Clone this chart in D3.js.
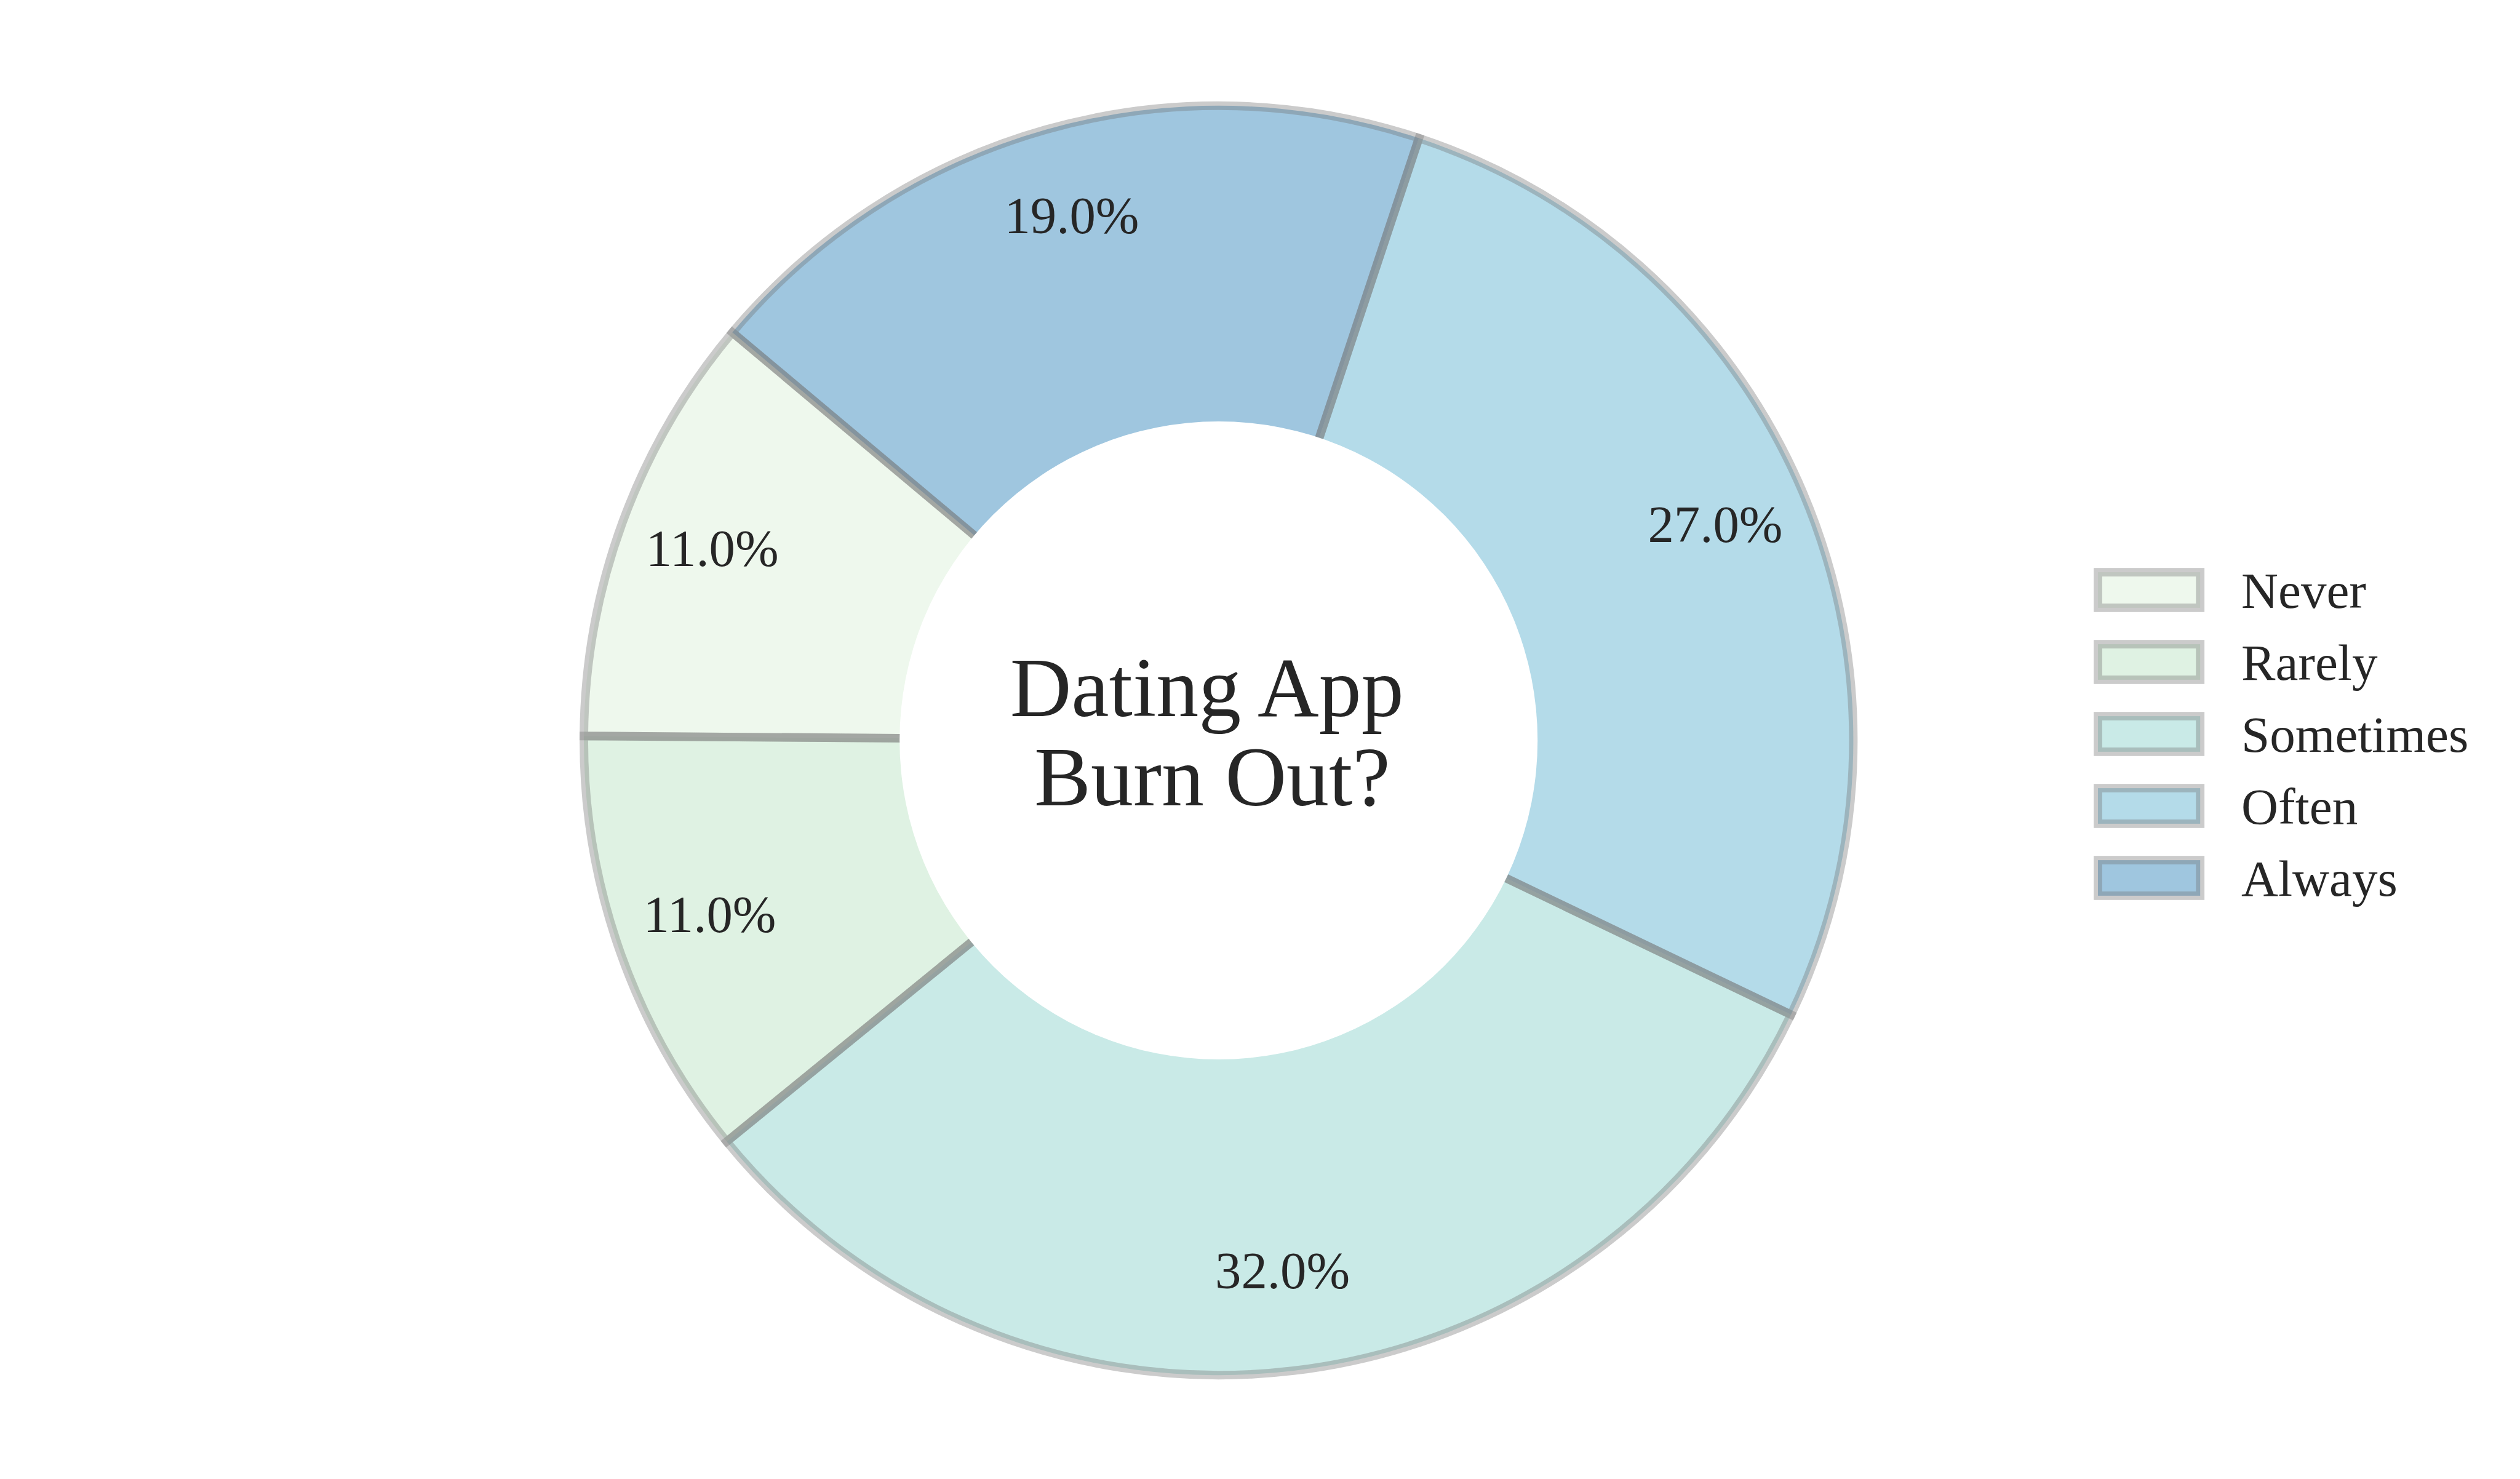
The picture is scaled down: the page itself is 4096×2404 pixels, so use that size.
<!DOCTYPE html>
<html>
<head>
<meta charset="utf-8">
<script src="https://cdn.jsdelivr.net/npm/d3@7"></script>
<style>
  html, body { margin: 0; padding: 0; background: #ffffff; }
  svg { display: block; }
</style>
</head>
<body>
<script>
// ---- data ----
const categories = ["Never", "Rarely", "Sometimes", "Often", "Always"];
const values = [11, 11, 32, 27, 19];
const centerTitle = ["Dating App", "Burn Out?"];

// ---- style ----
const fills = ["#eef8ed", "#dff2e3", "#c9eae7", "#b4dbe9", "#9fc6df"];
const W = 4096, H = 2404;
const cx = 1980.7, cy = 1203.5;
const R = 1031.7, rHole = 518.5;
const strokeW = 13.85;
const strokeCol = "rgb(116,116,116)";
const strokeOp = 0.374;
const textCol = "#262626";
const font = "'Liberation Serif', 'Times New Roman', serif";

const svg = d3.select("body").append("svg")
  .attr("width", W).attr("height", H);

const total = d3.sum(values);
const startDeg = 90 - 140; // matplotlib startangle=140, counterclockwise
const toRad = d => d * Math.PI / 180;
const pie = d3.pie().sort(null)
  .startAngle(toRad(startDeg))
  .endAngle(toRad(startDeg) - 2 * Math.PI);
const arcs = pie(values);
const arcGen = d3.arc().innerRadius(0).outerRadius(R);

const color = d3.scaleOrdinal().domain(categories).range(fills);

const g = svg.append("g").attr("transform", `translate(${cx},${cy})`);

// fills
g.selectAll("path.fill").data(arcs).enter().append("path")
  .attr("class", "fill")
  .attr("d", arcGen)
  .attr("fill", (d, i) => color(categories[i]));

// strokes
g.selectAll("path.edge").data(arcs).enter().append("path")
  .attr("class", "edge")
  .attr("d", arcGen)
  .attr("fill", "none")
  .attr("stroke", strokeCol)
  .attr("stroke-opacity", strokeOp)
  .attr("stroke-width", strokeW)
  .attr("stroke-linejoin", "miter");

// center hole
g.append("circle").attr("r", rHole).attr("fill", "#ffffff");

// percentage labels
const labelArc = d3.arc().innerRadius(0.85 * R).outerRadius(0.85 * R);
const pctFs = 84.8;
g.selectAll("text.pct").data(arcs).enter().append("text")
  .attr("class", "pct")
  .attr("x", d => labelArc.centroid(d)[0])
  .attr("y", d => labelArc.centroid(d)[1] + 0.233 * pctFs)
  .attr("text-anchor", "middle")
  .attr("font-family", font)
  .attr("font-size", pctFs)
  .attr("fill", textCol)
  .text(d => (d.value / total * 100).toFixed(1) + "%");

// center title
const titleFs = 138;
const titleDx = [-19, -10.4];
const titleDy = [-39.9, 105.5];
g.selectAll("text.title").data(centerTitle).enter().append("text")
  .attr("class", "title")
  .attr("x", (d, i) => titleDx[i])
  .attr("y", (d, i) => titleDy[i])
  .attr("text-anchor", "middle")
  .attr("font-family", font)
  .attr("font-size", titleFs)
  .attr("fill", textCol)
  .text(d => d);

// legend
const legX = 3410, legY0 = 959, legStep = 117;
const hW = 166.2, hH = 57.8;
const legend = svg.append("g");
const rows = legend.selectAll("g.row").data(categories).enter().append("g")
  .attr("class", "row")
  .attr("transform", (d, i) => `translate(${legX},${legY0 + i * legStep})`);
rows.append("rect")
  .attr("x", 0).attr("y", -hH / 2)
  .attr("width", hW).attr("height", hH)
  .attr("fill", d => color(d));
rows.append("rect")
  .attr("x", 0).attr("y", -hH / 2)
  .attr("width", hW).attr("height", hH)
  .attr("fill", "none")
  .attr("stroke", strokeCol)
  .attr("stroke-opacity", strokeOp)
  .attr("stroke-width", strokeW);
rows.append("text")
  .attr("x", 3643 - legX)
  .attr("y", 29)
  .attr("font-family", font)
  .attr("font-size", 83.1)
  .attr("fill", textCol)
  .text(d => d);
</script>
</body>
</html>
